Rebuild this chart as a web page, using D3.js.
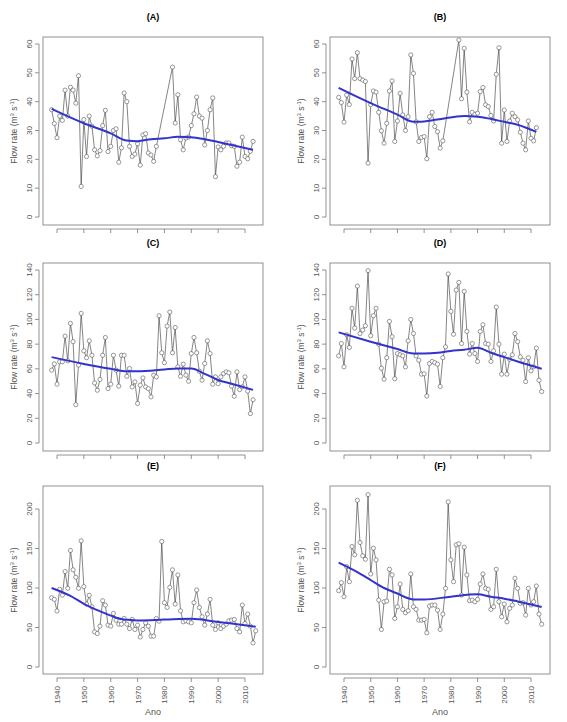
<!DOCTYPE html>
<html>
<head>
<meta charset="utf-8">
<script src="https://cdn.jsdelivr.net/npm/d3@7"></script>
<style>
  body { margin: 0; background: #fff; }
  svg text { font-family: Arial, "Liberation Sans", sans-serif; }
</style>
</head>
<body>
<svg id="vis" width="567" height="722"></svg>
<script>
// panel data: first year and yearly values (null = missing year)
const labels = ['(A)', '(B)', '(C)', '(D)', '(E)', '(F)'];
const startYears = [1938, 1938, 1938, 1938, 1938, 1938];
const yMax = [60, 60, 140, 140, 200, 200];
const yTicks = [
  [0, 10, 20, 30, 40, 50, 60],
  [0, 10, 20, 30, 40, 50, 60],
  [0, 20, 40, 60, 80, 100, 120, 140],
  [0, 20, 40, 60, 80, 100, 120, 140],
  [0, 50, 100, 150, 200],
  [0, 50, 100, 150, 200]
];
const xTicks = [1940, 1950, 1960, 1970, 1980, 1990, 2000, 2010];

const flowA = [37.2, 32.4, 27.5, 35, 33.5, 44, 35, 45, 44, 39.5, 49, 10.6, 33.8, 21, 35, 31.5, 23.3, 21.2, 23, 31.7,
  37, 22.7, 24.5, 30, 30.6, 19, 24, 43, 40, 24.5, 21, 21.8, 25.4, 18, 28.5, 28.9, 22.2, 21.5, 19.3, 24.5,
  null, null, null, null, null, 52, 32.6, 42.4, 26.8, 23.3, 27.4, 27.7, 31.7, 35.8, 41.6, 35, 34.3, 25, 30, 37.2,
  41.3, 14, 24.3, 23.3, 24.5, 25.7, 25.7, 24.7, 24.5, 17.6, 19, 27.7, 21, 20.2, 22.8, 26.2];
const flowB = [41.5, 39.7, 32.9, 42.3, 39, 54.8, 48, 57, 48, 47.5, 47, 18.7, 39, 43.7, 43.3, 36.3, 29.9, 25.6, 32.5, 43.7,
  47.2, 26.2, 33.3, 42.9, 35.4, 30, 34.8, 56.2, 49.8, 33, 26.2, 27.6, 27.9, 20.2, 34.8, 36.3, 31.4, 29.6, 23.9, 26.4,
  null, null, null, null, null, 61.4, 41, 58.5, 43.3, 33, 36.3, 35.6, 36, 43.5, 44.9, 38.9, 38.3, 35.2, 33.3, 49.5,
  58.7, 25.6, 37.1, 26.2, 33.3, 36, 34.8, 33.7, 29.4, 25.6, 23.3, 33.3, 27.3, 26.4, 31];
const flowC = [59, 64, 47.6, 65.7, 65.7, 86.5, 66.5, 96.8, 82, 31, 63, 104.9, 74.6, 69, 82.7, 71, 48.6, 42.7, 51.4, 71,
  85.4, 44, 47.6, 71, 59, 46, 71, 71, 54, 60.3, 45.4, 49.5, 32, 46.8, 52.7, 45.4, 44, 37.3, 54.9, 53.5,
  103, 73, 65, 94.6, 106, 73, 93.5, 61.6, 54, 63.8, 54.9, 50, 72.4, 85.4, 73, 58.1, 50.8, 64.3, 82.7, 72.4,
  47.6, 53.5, 48, 53.5, 56.2, 57.6, 56.8, 46, 37.8, 57.6, 43.2, 45.4, 53.5, 42, 23.8, 35];
const flowD = [70.5, 80.5, 61.6, 87.6, 77.3, 109, 93, 127, 88.6, 91.4, 94.9, 139.5, 86.8, 103, 109, 80, 60.5, 51.6, 69, 98.4,
  86, 52, 72.4, 71.4, 70.5, 61.6, 82.7, 100, 88.6, 70.5, 67, 55.7, 56, 38, 64.3, 66, 65, 63.8, 45.7, 69,
  77.8, 136.8, 106.5, 88, 123.8, 130, 80.5, 122.7, 90.3, 71.9, 80.5, 72.4, 66, 90.3, 95.7, 80.5, 80, 66, 74.6, 110,
  80, 55.7, 71.9, 55.7, 67.8, 71.4, 88.6, 82, 69.7, 67, 49.7, 69, 58.4, 61.6, 76.8, 50.8, 41.6];
const flowE = [87.7, 85.6, 71, 98.3, 91, 120.8, 99.6, 147.5, 123, 113.6, 99.6, 159.7, 101.7, 79.7, 90.7, 76.3, 44.5, 42.4, 51.7, 83.9,
  78.4, 53, 51.7, 67.8, 59.3, 54.2, 54.2, 61.4, 54.2, 48.7, 60.2, 47.5, 53, 38, 47.5, 55.9, 51.7, 39, 39, 61.4,
  58, 158.9, 81.4, 75.4, 100.8, 123, 79.7, 116.5, 71, 57.2, 58.5, 57.2, 55.9, 81.4, 97.5, 75.4, 63.6, 53, 67, 85.6,
  53, 47.5, 55.9, 48.7, 51.7, 54.2, 58.5, 59.3, 60.2, 48.7, 44.5, 78.4, 55, 67, 51.7, 30.5, 45.8];
const flowF = [96.6, 106.8, 89, 127, 108, 152.5, 142, 211, 157.6, 140.7, 136.4, 218.2, 117.8, 150.4, 135.6, 84.7, 47.5, 82.6, 83.5, 123.7,
  116.5, 61.4, 76.3, 105, 72.9, 68.6, 71.2, 117.8, 76.3, 72.9, 59.3, 59.3, 60.2, 43.2, 77.1, 78.4, 78.4, 72, 47.5, 67,
  99.6, 209, 135.6, 108, 154.7, 156, 91, 151.7, 116.5, 83.9, 84.7, 82.6, 85.6, 105, 117.8, 99.6, 98.3, 72.9, 76.3, 123.7,
  82.6, 63.6, 79.7, 57.2, 74.2, 78.4, 112.3, 99.6, 80.5, 81.4, 65.7, 99.6, 78.4, 82.6, 102.5, 67, 54.2];
const flows = [flowA, flowB, flowC, flowD, flowE, flowF];

// smoothed trend
const trendYears = [
  [1938, 1950, 1960, 1966, 1970, 1975, 1980, 1985, 1990, 1995, 2000, 2005, 2013],
  [1938, 1950, 1960, 1966, 1968, 1975, 1985, 1990, 1995, 2000, 2005, 2012],
  [1938, 1950, 1960, 1966, 1970, 1980, 1985, 1990, 1995, 2000, 2005, 2013],
  [1938, 1950, 1960, 1966, 1970, 1975, 1980, 1985, 1990, 1995, 2000, 2005, 2014],
  [1938, 1945, 1950, 1955, 1960, 1965, 1970, 1980, 1990, 2000, 2005, 2014],
  [1938, 1945, 1950, 1955, 1960, 1964, 1966, 1970, 1980, 1990, 1995, 2000, 2005, 2014]
];
const trendValues = [
  [37.5, 32.5, 29, 26.5, 26.3, 27, 27.3, 27.8, 27.7, 27, 26, 25, 23.3],
  [44.8, 39.5, 35.5, 33, 33, 33.8, 35, 34.8, 34, 33, 32, 29.5],
  [69.5, 64, 60, 58, 58, 59.5, 60.3, 60.3, 56, 51, 48, 43],
  [89.5, 82, 76, 72.5, 72.5, 73, 74.5, 75.5, 77, 73, 69.5, 66, 60],
  [100, 90, 80, 72, 65, 60, 59, 60, 61, 57, 55, 51],
  [132, 120, 110, 100, 93, 87, 85.5, 85.5, 89, 92, 89, 86.5, 83, 76]
];

const vis = d3.select('#vis');
const cols = [{ left: 43, right: 263, x0: 57, x1: 245 }, { left: 330, right: 550, x0: 344, x1: 531 }];
const rows = [{ top: 37, bottom: 225, zero: 217, max: 44 },
              { top: 263, bottom: 451, zero: 443, max: 270 },
              { top: 486, bottom: 674, zero: 667, max: 509 }];

labels.forEach((lab, p) => {
  const c = cols[p % 2], r = rows[Math.floor(p / 2)];
  const x = d3.scaleLinear().domain([1940, 2010]).range([c.x0, c.x1]);
  const y = d3.scaleLinear().domain([0, yMax[p]]).range([r.zero, r.max]);
  const g = vis.append('g');

  g.append('text').attr('x', (c.left + c.right) / 2).attr('y', r.top - 17)
    .attr('text-anchor', 'middle').attr('font-size', 9).attr('font-weight', 'bold').text(lab);

  g.append('rect').attr('x', c.left).attr('y', r.top)
    .attr('width', c.right - c.left).attr('height', r.bottom - r.top)
    .attr('fill', 'none').attr('stroke', '#777').attr('stroke-width', 0.8);

  // y axis, R style with vertical labels
  const ya = g.append('g').attr('transform', `translate(${c.left - 4},0)`);
  ya.append('line').attr('y1', y(yTicks[p][0])).attr('y2', y(yTicks[p][yTicks[p].length - 1]))
    .attr('stroke', '#777').attr('stroke-width', 0.8);
  yTicks[p].forEach(t => {
    ya.append('line').attr('x1', 0).attr('x2', -4).attr('y1', y(t)).attr('y2', y(t))
      .attr('stroke', '#777').attr('stroke-width', 0.8);
    ya.append('text').attr('transform', `translate(-7,${y(t)}) rotate(-90)`)
      .attr('text-anchor', 'middle').attr('font-size', 8).attr('fill', '#555').text(t);
  });
  g.append('text').attr('transform', `translate(${c.left - 26},${(r.top + r.bottom) / 2}) rotate(-90)`)
    .attr('text-anchor', 'middle').attr('font-size', 8.5).attr('fill', '#555')
    .html('Flow rate (m<tspan dy="-3" font-size="6">3</tspan><tspan dy="3"> s</tspan><tspan dy="-3" font-size="6">-1</tspan><tspan dy="3">)</tspan>');

  // x axis
  const xa = g.append('g').attr('transform', `translate(0,${r.bottom + 4})`);
  xa.append('line').attr('x1', x(1940)).attr('x2', x(2010)).attr('stroke', '#777').attr('stroke-width', 0.8);
  xTicks.forEach(t => {
    xa.append('line').attr('x1', x(t)).attr('x2', x(t)).attr('y1', 0).attr('y2', 4)
      .attr('stroke', '#777').attr('stroke-width', 0.8);
    if (p >= 4) {
      xa.append('text').attr('transform', `translate(${x(t) + 3},8) rotate(-90)`)
        .attr('text-anchor', 'end').attr('font-size', 8).attr('fill', '#555').text(t);
    }
  });
  if (p >= 4) {
    g.append('text').attr('x', (c.left + c.right) / 2).attr('y', 715)
      .attr('text-anchor', 'middle').attr('font-size', 9).attr('fill', '#555').text('Ano');
  }

  const pts = flows[p].map((v, i) => ({ yr: startYears[p] + i, v })).filter(d => d.v !== null);
  g.append('path').datum(pts)
    .attr('d', d3.line().x(d => x(d.yr)).y(d => y(d.v)))
    .attr('fill', 'none').attr('stroke', '#333').attr('stroke-width', 0.6);
  g.selectAll('circle').data(pts).enter().append('circle')
    .attr('cx', d => x(d.yr)).attr('cy', d => y(d.v)).attr('r', 2.1)
    .attr('fill', '#fff').attr('stroke', '#555').attr('stroke-width', 0.6);

  const tr = trendYears[p].map((yr, i) => ({ yr, v: trendValues[p][i] }));
  g.append('path').datum(tr)
    .attr('d', d3.line().x(d => x(d.yr)).y(d => y(d.v)).curve(d3.curveMonotoneX))
    .attr('fill', 'none').attr('stroke', '#3333cc').attr('stroke-width', 2);
});
</script>
</body>
</html>
